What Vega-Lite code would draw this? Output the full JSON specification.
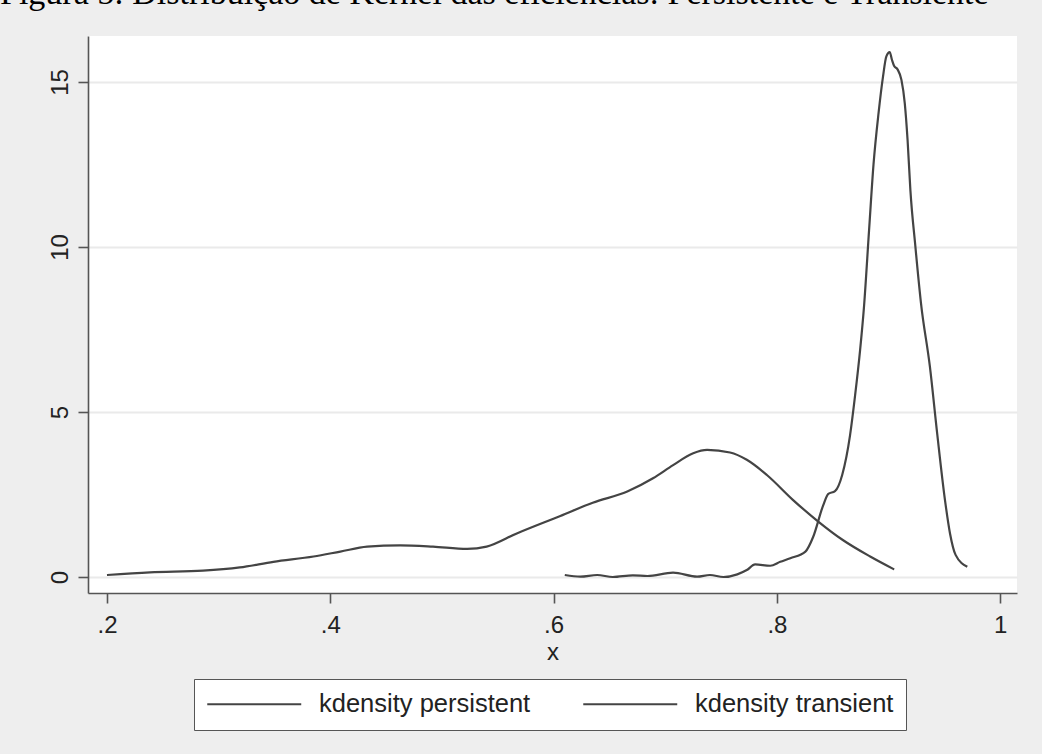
{
  "$schema": "https://vega.github.io/schema/vega-lite/v6.json",
  "width": 929,
  "height": 557,
  "autosize": {"type": "none"},
  "padding": {"left": 88, "top": 36, "right": 25, "bottom": 161},
  "background": "#eeeeee",
  "title": {
    "text": "Figura 5: Distribuição de Kernel das eficiências: Persistente e Transiente",
    "font": "Liberation Serif",
    "fontSize": 34,
    "fontWeight": "normal",
    "color": "#000000",
    "anchor": "start",
    "frame": "group",
    "dx": -88,
    "dy": 12,
    "baseline": "alphabetic",
    "offset": 10
  },
  "config": {
    "view": {"fill": "#ffffff", "stroke": null},
    "axis": {
      "domainColor": "#555555",
      "domainWidth": 1.6,
      "tickColor": "#555555",
      "tickWidth": 1.6,
      "tickSize": 10,
      "labelFont": "Liberation Sans",
      "labelFontSize": 24,
      "labelColor": "#222222",
      "titleFont": "Liberation Sans",
      "titleFontSize": 24,
      "titleFontWeight": "normal",
      "titleColor": "#222222",
      "gridColor": "#eaeaea",
      "gridWidth": 2
    }
  },
  "datasets": {
    "curves": [
      {"series": "kdensity persistent", "x": 0.200, "y": 0.06},
      {"series": "kdensity persistent", "x": 0.2385, "y": 0.14},
      {"series": "kdensity persistent", "x": 0.286, "y": 0.19},
      {"series": "kdensity persistent", "x": 0.319, "y": 0.29},
      {"series": "kdensity persistent", "x": 0.349, "y": 0.46},
      {"series": "kdensity persistent", "x": 0.385, "y": 0.62},
      {"series": "kdensity persistent", "x": 0.409, "y": 0.77},
      {"series": "kdensity persistent", "x": 0.433, "y": 0.92},
      {"series": "kdensity persistent", "x": 0.4625, "y": 0.96},
      {"series": "kdensity persistent", "x": 0.492, "y": 0.92},
      {"series": "kdensity persistent", "x": 0.5225, "y": 0.85},
      {"series": "kdensity persistent", "x": 0.540, "y": 0.92},
      {"series": "kdensity persistent", "x": 0.567, "y": 1.32},
      {"series": "kdensity persistent", "x": 0.606, "y": 1.85},
      {"series": "kdensity persistent", "x": 0.635, "y": 2.25},
      {"series": "kdensity persistent", "x": 0.666, "y": 2.59},
      {"series": "kdensity persistent", "x": 0.689, "y": 2.99},
      {"series": "kdensity persistent", "x": 0.707, "y": 3.39},
      {"series": "kdensity persistent", "x": 0.725, "y": 3.75},
      {"series": "kdensity persistent", "x": 0.7375, "y": 3.85},
      {"series": "kdensity persistent", "x": 0.758, "y": 3.77},
      {"series": "kdensity persistent", "x": 0.773, "y": 3.55},
      {"series": "kdensity persistent", "x": 0.791, "y": 3.09},
      {"series": "kdensity persistent", "x": 0.8145, "y": 2.33},
      {"series": "kdensity persistent", "x": 0.837, "y": 1.68},
      {"series": "kdensity persistent", "x": 0.859, "y": 1.12},
      {"series": "kdensity persistent", "x": 0.8835, "y": 0.62},
      {"series": "kdensity persistent", "x": 0.905, "y": 0.23},
      {"series": "kdensity transient", "x": 0.610, "y": 0.06},
      {"series": "kdensity transient", "x": 0.624, "y": 0.01},
      {"series": "kdensity transient", "x": 0.639, "y": 0.06},
      {"series": "kdensity transient", "x": 0.653, "y": 0.0},
      {"series": "kdensity transient", "x": 0.671, "y": 0.05},
      {"series": "kdensity transient", "x": 0.684, "y": 0.03},
      {"series": "kdensity transient", "x": 0.707, "y": 0.13},
      {"series": "kdensity transient", "x": 0.7285, "y": 0.01},
      {"series": "kdensity transient", "x": 0.740, "y": 0.06},
      {"series": "kdensity transient", "x": 0.752, "y": 0.0},
      {"series": "kdensity transient", "x": 0.7645, "y": 0.08},
      {"series": "kdensity transient", "x": 0.773, "y": 0.21},
      {"series": "kdensity transient", "x": 0.7805, "y": 0.38},
      {"series": "kdensity transient", "x": 0.794, "y": 0.34},
      {"series": "kdensity transient", "x": 0.803, "y": 0.46},
      {"series": "kdensity transient", "x": 0.812, "y": 0.57},
      {"series": "kdensity transient", "x": 0.8255, "y": 0.77},
      {"series": "kdensity transient", "x": 0.8325, "y": 1.22},
      {"series": "kdensity transient", "x": 0.8415, "y": 2.18},
      {"series": "kdensity transient", "x": 0.846, "y": 2.52},
      {"series": "kdensity transient", "x": 0.852, "y": 2.6},
      {"series": "kdensity transient", "x": 0.8585, "y": 3.1},
      {"series": "kdensity transient", "x": 0.8655, "y": 4.3},
      {"series": "kdensity transient", "x": 0.870, "y": 5.5},
      {"series": "kdensity transient", "x": 0.8745, "y": 6.88},
      {"series": "kdensity transient", "x": 0.878, "y": 8.2},
      {"series": "kdensity transient", "x": 0.8825, "y": 10.5},
      {"series": "kdensity transient", "x": 0.8865, "y": 12.5},
      {"series": "kdensity transient", "x": 0.891, "y": 14.05},
      {"series": "kdensity transient", "x": 0.895, "y": 15.16},
      {"series": "kdensity transient", "x": 0.898, "y": 15.77},
      {"series": "kdensity transient", "x": 0.901, "y": 15.9},
      {"series": "kdensity transient", "x": 0.903, "y": 15.67},
      {"series": "kdensity transient", "x": 0.905, "y": 15.48},
      {"series": "kdensity transient", "x": 0.908, "y": 15.38},
      {"series": "kdensity transient", "x": 0.9115, "y": 15.06},
      {"series": "kdensity transient", "x": 0.9145, "y": 14.35},
      {"series": "kdensity transient", "x": 0.917, "y": 13.24},
      {"series": "kdensity transient", "x": 0.9195, "y": 11.73},
      {"series": "kdensity transient", "x": 0.924, "y": 10.01},
      {"series": "kdensity transient", "x": 0.929, "y": 8.3},
      {"series": "kdensity transient", "x": 0.937, "y": 6.37},
      {"series": "kdensity transient", "x": 0.9435, "y": 4.35},
      {"series": "kdensity transient", "x": 0.9505, "y": 2.33},
      {"series": "kdensity transient", "x": 0.955, "y": 1.32},
      {"series": "kdensity transient", "x": 0.960, "y": 0.67},
      {"series": "kdensity transient", "x": 0.9705, "y": 0.31}
    ]
  },
  "data": {"name": "curves"},
  "mark": {"type": "line", "strokeWidth": 2.2, "interpolate": "monotone"},
  "encoding": {
    "x": {
      "field": "x",
      "type": "quantitative",
      "scale": {"domain": [0.183, 1.015], "nice": false, "zero": false},
      "axis": {
        "values": [0.2, 0.4, 0.6, 0.8, 1],
        "labelExpr": "datum.value == 1 ? '1' : substring(format(datum.value, '.1f'), 1)",
        "grid": false,
        "labelPadding": 10,
        "titlePadding": 3,
        "title": "x"
      }
    },
    "y": {
      "field": "y",
      "type": "quantitative",
      "scale": {"domain": [-0.485, 16.39], "nice": false, "zero": false},
      "axis": {
        "values": [0, 5, 10, 15],
        "labelAngle": -90,
        "labelAlign": "center",
        "labelBaseline": "bottom",
        "labelPadding": 6,
        "grid": true,
        "title": null
      }
    },
    "color": {
      "field": "series",
      "type": "nominal",
      "scale": {"domain": ["kdensity persistent", "kdensity transient"], "range": ["#444444", "#444444"]},
      "legend": {
        "title": null,
        "orient": "none",
        "legendX": 106,
        "legendY": 643,
        "direction": "horizontal",
        "symbolType": "M-1,0H7",
        "symbolSize": 552,
        "symbolStrokeWidth": 2,
        "labelFont": "Liberation Sans",
        "labelFontSize": 25.5,
        "labelColor": "#222222",
        "labelOffset": 87,
        "labelLimit": 400,
        "columnPadding": 48,
        "padding": 12,
        "fillColor": "#ffffff",
        "strokeColor": "#555555"
      }
    }
  }
}
